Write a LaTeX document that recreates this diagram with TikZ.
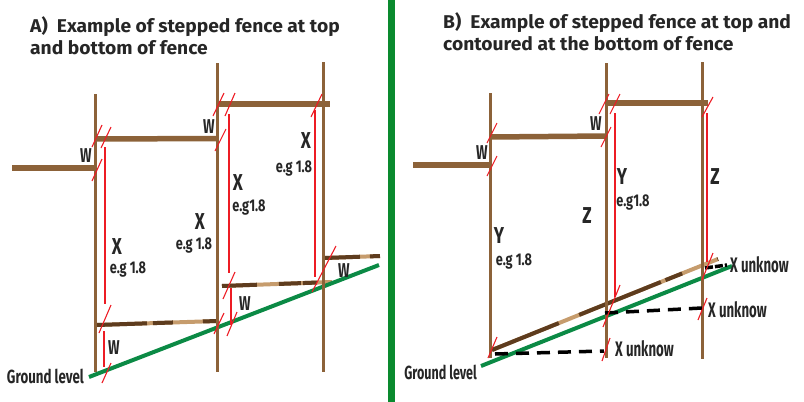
\documentclass[tikz,border=0pt]{standalone}
\usepackage{fontspec}
\setmainfont{Fira Sans}
\definecolor{postbrown}{HTML}{8C6239}
\definecolor{darkrail}{HTML}{5E3C1E}
\definecolor{tanrail}{HTML}{C69C6D}
\definecolor{groundgreen}{HTML}{0B8A45}
\definecolor{splitgreen}{HTML}{0A8A2E}
\definecolor{markred}{HTML}{ED1C24}
\newcommand{\tightlabel}[2][.75]{\scalebox{#1}[1]{#2}}
\tikzset{
  post/.style={line width=3pt, postbrown},
  rail/.style={line width=5.5pt, postbrown},
  tanline/.style={line width=4pt, tanrail},
  darkline/.style={line width=4pt, darkrail},
  spotsa/.style={dash pattern=on 50pt off 6pt on 20pt off 30pt on 14pt off 9pt},
  spotsb/.style={dash pattern=on 35pt off 22pt on 22pt off 2pt on 14pt off 40pt},
  spotsc/.style={dash pattern=on 35pt off 10pt on 10pt off 9pt},
  spotsd/.style={dash pattern=on 72pt off 22pt on 88pt off 5pt on 18pt off 38pt on 12pt off 9pt},
  groundline/.style={line width=4pt, groundgreen},
  endmark/.style={line width=1.1pt, markred},
  redline/.style={line width=1.3pt, markred},
  unknown/.style={line width=3.5pt, black, dash pattern=on 13pt off 8pt},
  title/.style={font=\fontsize{18.5}{22}\selectfont\bfseries, text=black!85, align=left, anchor=north west, inner sep=0pt},
  big/.style={font=\fontsize{23}{23}\selectfont\bfseries, text=black!85, inner sep=0pt},
  small/.style={font=\fontsize{17}{17}\selectfont\bfseries, text=black!85, inner sep=0pt},
  wlabel/.style={font=\fontsize{20}{20}\selectfont\bfseries, text=black!85, inner sep=0pt},
  ground/.style={font=\fontsize{19}{19}\selectfont\bfseries, text=black!85, inner sep=0pt},
  unknowlabel/.style={font=\fontsize{21}{21}\selectfont\bfseries, text=black!85, inner sep=0pt}
}
\begin{document}
\begin{tikzpicture}[x=1pt,y=-1pt]
  \useasboundingbox (0,0) rectangle (804,402);

  % Titles and the split between the panels
  \node[title] (titleA) at (30,16) {\tightlabel[1.04]{A)\ \ Example of stepped fence at top}\\\tightlabel[1.04]{and bottom of fence}};
  \node[title] (titleB) at (443,12) {\tightlabel[1.04]{B)\ \ Example of stepped fence at top and}\\\tightlabel[1.04]{contoured at the bottom of fence}};
  \draw[line width=7pt, splitgreen] (391,0) -- (391,402);

  % Top rails
  \foreach \xa/\ya/\xb/\yb in {12/168/96/168, 96/139/217/138.5, 217/104/330/104,
      413/165/490/165, 490/137/606/136, 606/103/708/103}
    \draw[rail] (\xa,\ya) -- (\xb,\yb);

  % Mottled rails above the ground
  \foreach \xa/\ya/\xb/\yb/\spots in {97/325/217/321/spotsa, 222/286/332/282/spotsb,
      325/258/380/256/spotsc, 492/350/718/259/spotsd} {
    \draw[tanline] (\xa,\ya) -- (\xb,\yb);
    \draw[darkline, \spots] (\xa,\ya) -- (\xb,\yb);
  }

  % Ground lines
  \coordinate (groundA) at (89,377);
  \coordinate (groundB) at (481,366);
  \draw[groundline] (groundA) -- (379,265);
  \draw[groundline] (groundB) -- (732,266);

  % Posts
  \foreach \x/\ya/\yb in {95.5/94/372, 217/63/372, 323/62/372, 490/93/358, 606/63/358, 702/62/359}
    \draw[post] (\x,\ya) -- (\x,\yb);

  % Unknown heights
  \draw[unknown] (495,354) -- (604,351);
  \draw[unknown] (605,313) -- (702,308);
  \draw[unknown, dash pattern=on 8pt off 2pt] (705,268) -- (727,265);

  % Red measuring lines
  \foreach \x/\ya/\yb in {105/147/304, 104/331/367, 229/114/273, 231/288/325, 315/110/277,
      615/113/297, 707/113/262}
    \draw[redline] (\x,\ya) -- (\x,\yb);

  % Red end marks
  \foreach \xa/\ya/\xb/\yb in {92/147/102/125, 101/148/111/127, 92/181/102/159, 213/116/224/93,
      215/151/226/129, 225/116/235/93, 311/117/322/94, 99/333/111/305, 102/383/111/363,
      214/334/224/313, 223/299/235/272, 227/336/237/312, 312/292/336/246,
      487/143/497/123, 487/176/497/156, 599/114/609/94, 610/114/620/94, 601/147/611/127,
      702/117/713/97, 488/358/497/337, 602/361/610/338, 603/327/620/285, 698/320/707/298,
      702/280/713/253}
    \draw[endmark] (\xa,\ya) -- (\xb,\yb);

  % Labels of panel A
  \node[wlabel] (wa) at (86,156) {\tightlabel[.68]{W}};
  \node[wlabel] (wb) at (209,127) {\tightlabel[.68]{W}};
  \node[wlabel] (wc) at (114,348) {\tightlabel[.68]{W}};
  \node[wlabel] (wd) at (245,304) {\tightlabel[.68]{W}};
  \node[wlabel] (we) at (344,271) {\tightlabel[.68]{W}};
  \node[big] (xa) at (117,247) {\tightlabel{X}};
  \node[small] (ega) at (128,270) {\tightlabel{e.g 1.8}};
  \node[big] (xb) at (200,222) {\tightlabel{X}};
  \node[small] (egb) at (194,246) {\tightlabel{e.g 1.8}};
  \node[big] (xc) at (238,183) {\tightlabel{X}};
  \node[small] (egc) at (249,208) {\tightlabel{e.g1.8}};
  \node[big] (xd) at (306,141) {\tightlabel{X}};
  \node[small] (egd) at (294,169) {\tightlabel{e.g 1.8}};
  \node[ground, left] (levelA) at (84,376) {\tightlabel[.7]{Ground level}};

  % Labels of panel B
  \node[wlabel] (wf) at (482,153) {\tightlabel[.68]{W}};
  \node[wlabel] (wg) at (596,124) {\tightlabel[.68]{W}};
  \node[big] (ya) at (499,236) {\tightlabel{Y}};
  \node[small] (egf) at (514,262) {\tightlabel{e.g 1.8}};
  \node[big] (yb) at (622,177) {\tightlabel{Y}};
  \node[small] (egg) at (633,203) {\tightlabel{e.g1.8}};
  \node[big] (za) at (587,216) {\tightlabel{Z}};
  \node[big] (zb) at (715,177) {\tightlabel{Z}};
  \node[ground, left] (levelB) at (477,372) {\tightlabel[.66]{Ground level}};
  \node[unknowlabel, right] (ua) at (730,265) {\tightlabel[.63]{X unknow}};
  \node[unknowlabel, right] (ub) at (708,310) {\tightlabel[.63]{X unknow}};
  \node[unknowlabel, right] (uc) at (615,349) {\tightlabel[.63]{X unknow}};
\end{tikzpicture}
\end{document}
